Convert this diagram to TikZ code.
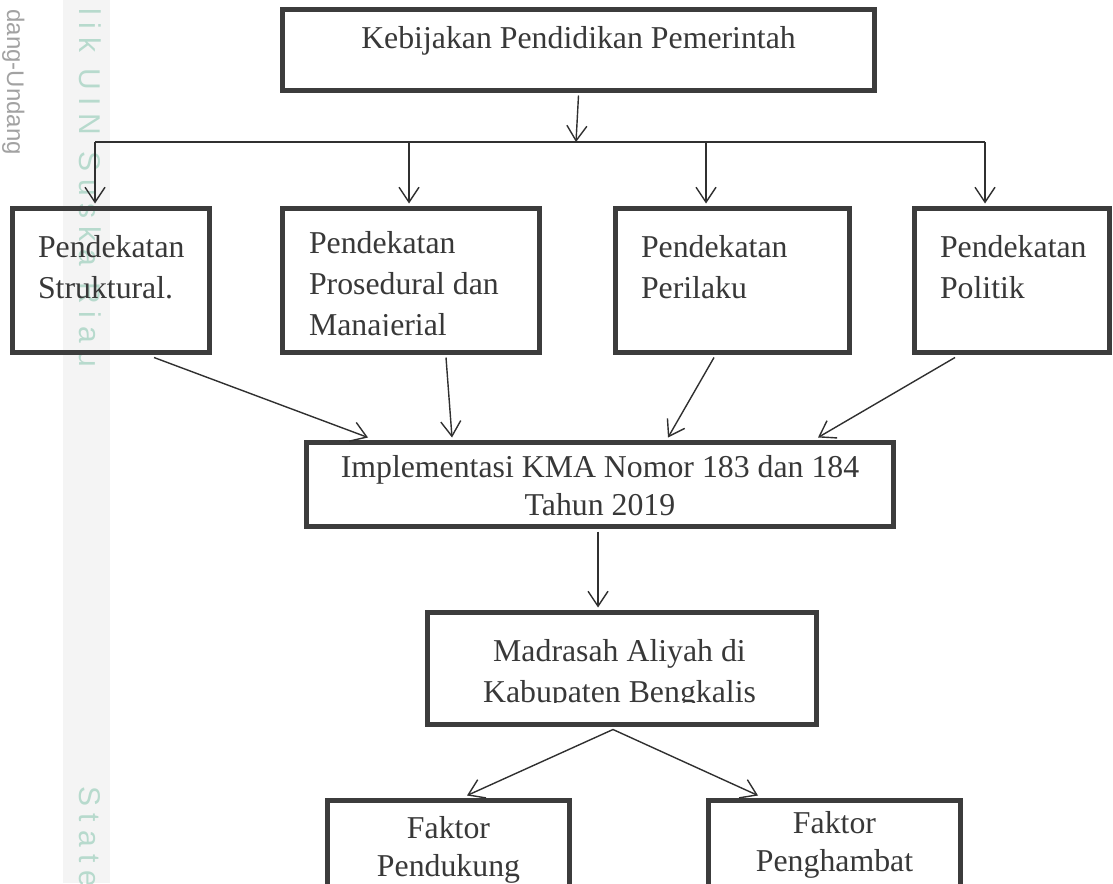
\documentclass[tikz,border=0pt]{standalone}
\usepackage{fontspec}
\setmainfont{Liberation Serif}
\setsansfont{Liberation Sans}
\usetikzlibrary{arrows.meta}
\definecolor{boxc}{HTML}{3C3C3C}
\definecolor{txtc}{HTML}{383838}
\definecolor{linec}{HTML}{303030}
\definecolor{wmgreen}{HTML}{B7DACD}
\definecolor{wmgray}{HTML}{A2A2A2}
\definecolor{wmband}{HTML}{F4F4F4}
\def\clipb{0pt}
\newcommand\bx[9]{%
  \node[box, minimum width=#4, minimum height=#5,
    path picture={%
      \clip ([yshift=\clipb]path picture bounding box.south west) rectangle (path picture bounding box.north east);
      \node[txt,#8] (#1t) at ([shift={(#6,#7)}]path picture bounding box.north west) {#9};}]
    (#1) at (#2,#3) {};}
\begin{document}
\begin{tikzpicture}[x=1pt,y=-1pt,
  box/.style={draw=boxc, line width=5pt, rectangle, inner sep=0pt, anchor=north west},
  txt/.style={draw=none, fill=none, minimum width=0pt, minimum height=0pt, text=txtc, font=\fontsize{31.8}{41}\selectfont, inner sep=0pt},
  tight/.style={font=\fontsize{31.8}{38}\selectfont},
  plain/.style={draw=linec, line width=1.4pt},
  conn/.style={plain, -{Straight Barb[length=15pt,width=20pt,line width=1.4pt]}},
  wm/.style={font=\sffamily, inner sep=0pt, rotate=-90}
]
\useasboundingbox (0,0) rectangle (1113,883);
% faint watermark band and texts
\fill[wmband] (63,0) rectangle (110,883);
\node[wm, text=wmgray, font=\sffamily\fontsize{24}{24}\selectfont, anchor=base east] (wma) at (7,155) {dang-Undang};
\node[wm, text=wmgreen, font=\sffamily\fontsize{30}{30}\selectfont\addfontfeatures{LetterSpace=26}, anchor=base west] (wmb) at (79,8) {lik UIN Suska Riau};
\node[wm, text=wmgreen, font=\sffamily\fontsize{30}{30}\selectfont\addfontfeatures{LetterSpace=26}, anchor=base west] (wmc) at (79,786) {State I};

% boxes
\bx{top}{280}{7}{592}{81}{296}{14}{anchor=north}{Kebijakan Pendidikan Pemerintah}
\bx{s1}{10}{206}{197}{144}{23}{24}{anchor=north west, align=left}{Pendekatan\\Struktural.}
\def\clipb{17pt}
\bx{s2}{280}{206}{257}{144}{24}{20}{anchor=north west, align=left}{Pendekatan\\Prosedural dan\\Manajerial}
\def\clipb{0pt}
\bx{s3}{613}{206}{234}{144}{23}{24}{anchor=north west, align=left}{Pendekatan\\Perilaku}
\bx{s4}{912}{206}{195}{144}{23}{24}{anchor=north west, align=left}{Pendekatan\\Politik}
\bx{impl}{304}{440}{587}{84}{293.5}{10}{anchor=north, align=center, tight}{Implementasi KMA Nomor 183 dan 184\\Tahun 2019}
\def\clipb{22pt}
\bx{mad}{425}{610}{389}{112}{192}{24}{anchor=north, align=center}{Madrasah Aliyah di\\Kabupaten Bengkalis}
\def\clipb{0pt}
\bx{f1}{325}{798}{242}{130}{121}{13}{anchor=north, align=center, tight}{Faktor\\Pendukung}
\bx{f2}{706}{798}{252}{130}{126}{8}{anchor=north, align=center, tight}{Faktor\\Penghambat}

% connectors
\coordinate (hub) at (576,142);
\coordinate (b1) at (95,142);
\coordinate (b2) at (409,142);
\coordinate (b3) at (706,142);
\coordinate (b4) at (985,142);
\draw[conn] ([yshift=-2.5pt]top.south) -- (hub);
\draw[plain] (b1) -- (b4);
\draw[conn] (b1) -- ([xshift=85pt,yshift=2.5pt]s1.north west);
\draw[conn] (b2) -- ([xshift=129pt,yshift=2.5pt]s2.north west);
\draw[conn] (b3) -- ([xshift=93pt,yshift=2.5pt]s3.north west);
\draw[conn] (b4) -- ([xshift=73pt,yshift=2.5pt]s4.north west);

\draw[conn] ([xshift=144pt,yshift=-2.5pt]s1.south west) -- ([xshift=64pt,yshift=2.5pt]impl.north west);
\draw[conn] ([xshift=166pt,yshift=-2.5pt]s2.south west) -- ([xshift=148pt,yshift=2.5pt]impl.north west);
\draw[conn] ([xshift=101pt,yshift=-2.5pt]s3.south west) -- ([xshift=364pt,yshift=2.5pt]impl.north west);
\draw[conn] ([xshift=43pt,yshift=-2.5pt]s4.south west) -- ([xshift=514pt,yshift=2.5pt]impl.north west);

\draw[conn] ([xshift=294pt,yshift=-2.5pt]impl.south west) -- ([xshift=173pt,yshift=2.5pt]mad.north west);
\draw[conn] ([xshift=188pt,yshift=-2.5pt]mad.south west) -- ([xshift=142pt,yshift=2.5pt]f1.north west);
\draw[conn] ([xshift=188pt,yshift=-2.5pt]mad.south west) -- ([xshift=52pt,yshift=2.5pt]f2.north west);
\end{tikzpicture}
\end{document}
